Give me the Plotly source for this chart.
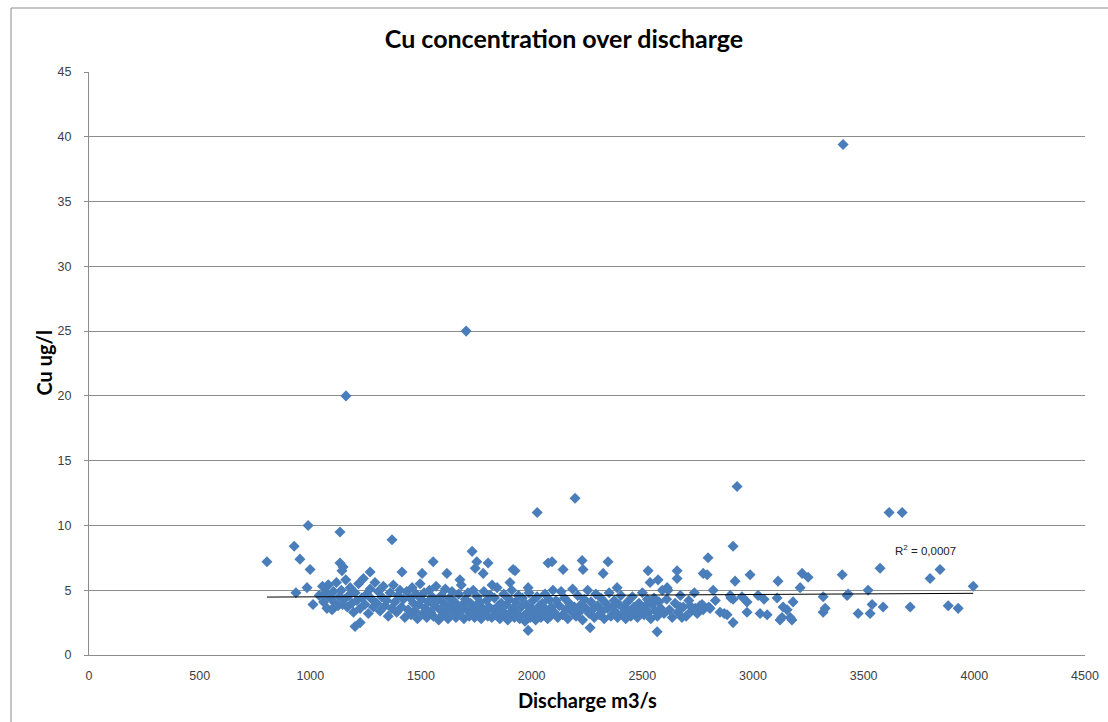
import numpy as np
import plotly.graph_objects as go

# ---- data (discharge m3/s, Cu ug/l) ----
outliers = [(1161, 20.0), (1704, 25.0), (2196, 12.1), (2025, 11.0), (2928, 13.0),
            (3407, 39.4), (3615, 11.0), (3674, 11.0)]

sparse_left = [(804, 7.2), (927, 8.4), (953, 7.4), (999, 6.6), (990, 10.0), (935, 4.8),
               (985, 5.2), (1012, 3.9), (1103, 3.6), (1134, 9.5), (1134, 7.1), (1143, 6.5),
               (1148, 6.8), (1202, 2.2), (1225, 2.5), (1270, 6.4), (1369, 8.9), (1414, 6.4),
               (1080, 5.4), (1040, 4.6), (1055, 5.3)]

upper_mid = [(1505, 6.3), (1555, 7.2), (1617, 6.3), (1676, 5.8), (1731, 8.0), (1745, 6.7),
             (1752, 7.2), (1781, 6.3), (1803, 7.1), (1821, 5.4), (1902, 5.6), (1916, 6.6),
             (1925, 6.5), (1984, 5.2), (2074, 7.1), (2092, 7.2), (2142, 6.6), (2228, 7.3),
             (2232, 6.6), (2323, 6.3), (2345, 7.2), (2386, 5.2), (2526, 6.5), (2535, 5.6),
             (2571, 5.8), (2612, 5.2), (2657, 6.5), (2657, 5.9), (2775, 6.3), (2797, 7.5)]

low_points = [(1984, 1.9), (2264, 2.1), (2567, 1.8)]

band_1 = [(1060, 4.1), (1068, 4.8), (1075, 3.6), (1082, 5.4), (1090, 4.4), (1098, 3.5),
          (1105, 4.9), (1112, 4.0), (1118, 5.6), (1125, 3.8), (1132, 4.5), (1140, 5.0),
          (1146, 3.9), (1153, 4.3), (1160, 5.8), (1167, 3.7), (1174, 4.6), (1180, 5.2),
          (1188, 4.0), (1195, 3.3), (1202, 4.8), (1210, 4.2), (1218, 5.5), (1225, 3.6),
          (1232, 4.4), (1240, 5.9), (1247, 3.9), (1255, 4.7), (1262, 3.2), (1270, 5.1),
          (1278, 4.3), (1285, 3.7), (1292, 5.6), (1300, 4.0), (1307, 4.9), (1315, 3.4),
          (1322, 4.5), (1330, 5.3), (1337, 3.8), (1345, 4.2), (1352, 3.0), (1360, 4.8),
          (1367, 3.6), (1375, 5.4), (1382, 4.1), (1390, 3.3), (1397, 4.6), (1405, 5.0),
          (1412, 3.7), (1420, 4.3), (1427, 2.9), (1435, 4.9), (1442, 3.5), (1450, 4.4)]

band_2 = [(1455, 3.1), (1460, 5.2), (1466, 4.0), (1472, 3.4), (1478, 4.7), (1484, 2.8),
          (1490, 3.9), (1496, 5.5), (1502, 4.3), (1508, 3.2), (1514, 4.8), (1520, 3.6),
          (1526, 2.9), (1532, 4.1), (1538, 5.0), (1544, 3.3), (1550, 4.5), (1556, 3.0),
          (1562, 3.8), (1568, 5.3), (1574, 4.2), (1580, 2.7), (1586, 3.5), (1592, 4.6),
          (1598, 3.1), (1604, 4.0), (1610, 5.1), (1616, 3.4), (1622, 2.8), (1628, 4.4),
          (1634, 3.7), (1640, 4.9), (1646, 3.2), (1652, 4.1), (1658, 2.9), (1664, 3.6),
          (1670, 4.7), (1676, 3.3), (1682, 5.4), (1688, 3.9), (1694, 2.8), (1700, 4.3),
          (1706, 3.5), (1712, 4.8), (1718, 3.0), (1724, 4.0), (1730, 3.4), (1736, 5.0),
          (1742, 2.9), (1748, 3.8), (1754, 4.5), (1760, 3.2), (1766, 4.1), (1772, 2.8),
          (1778, 3.6), (1784, 4.9), (1790, 3.3), (1796, 4.2), (1802, 3.0), (1808, 3.7),
          (1814, 4.6), (1820, 2.9), (1826, 3.5), (1832, 4.4), (1838, 3.1), (1844, 5.2),
          (1850, 3.8), (1856, 2.8), (1862, 4.0), (1868, 3.4), (1874, 4.7), (1880, 3.0),
          (1886, 3.9), (1892, 2.7), (1898, 4.3), (1904, 3.3), (1910, 5.0), (1916, 3.6),
          (1922, 2.9), (1928, 4.1), (1934, 3.2), (1940, 4.6), (1946, 2.8), (1952, 3.7),
          (1958, 4.4), (1964, 3.0), (1970, 2.6), (1976, 3.9), (1982, 3.3), (1988, 4.8),
          (1994, 2.9), (2000, 3.6), (2006, 4.2), (2012, 3.1), (2018, 2.7), (2024, 4.5),
          (2030, 3.4), (2036, 3.8), (2042, 2.9), (2048, 4.0), (2054, 3.2), (2060, 4.7),
          (2066, 3.5), (2072, 2.8), (2078, 4.3), (2084, 3.0), (2090, 3.7), (2096, 5.0)]

band_3 = [(2102, 3.3), (2110, 4.2), (2118, 2.9), (2125, 3.8), (2133, 4.9), (2140, 3.1),
          (2148, 4.4), (2155, 3.5), (2163, 2.8), (2170, 4.0), (2178, 3.4), (2185, 5.1),
          (2193, 3.7), (2200, 3.0), (2208, 4.6), (2215, 3.3), (2223, 3.9), (2230, 2.7),
          (2238, 4.3), (2245, 3.6), (2253, 5.0), (2260, 3.2), (2268, 4.1), (2275, 3.5),
          (2283, 2.9), (2290, 4.7), (2298, 3.8), (2305, 3.1), (2313, 4.4), (2320, 3.4),
          (2328, 2.8), (2335, 4.0), (2343, 3.6), (2350, 4.8), (2358, 3.0), (2365, 3.7),
          (2373, 4.2), (2380, 3.3), (2388, 2.9), (2395, 3.9), (2403, 4.6), (2410, 3.2),
          (2418, 3.6), (2425, 2.8), (2433, 4.1), (2440, 3.4), (2448, 3.0), (2455, 4.5),
          (2463, 3.7), (2470, 3.2), (2478, 2.9), (2485, 4.0), (2493, 3.5), (2500, 4.8),
          (2508, 3.1), (2515, 3.8), (2523, 4.3), (2530, 3.3), (2538, 2.8), (2545, 3.9),
          (2553, 4.4), (2560, 3.4), (2568, 3.0), (2575, 4.1), (2583, 3.6), (2590, 5.0),
          (2598, 3.2)]

band_4 = [(2610, 4.3), (2616, 5.0), (2622, 3.5), (2635, 2.9), (2648, 4.0), (2660, 3.3),
          (2670, 3.7), (2672, 4.6), (2679, 2.9), (2685, 3.7), (2698, 3.0), (2710, 4.2),
          (2716, 3.8), (2722, 3.4), (2735, 4.8), (2740, 3.6), (2748, 3.2), (2760, 3.8),
          (2770, 3.9), (2800, 3.7), (2830, 4.2), (2870, 3.2), (2900, 4.4), (2950, 4.5),
          (3050, 4.3), (3109, 4.4), (3131, 2.9)]

right_part = [(2806, 3.6), (2820, 5.0), (2851, 3.3), (2883, 3.1), (2897, 4.6), (2910, 4.3),
              (2910, 2.5), (2919, 5.7), (2973, 4.1), (2973, 3.3), (2987, 6.2), (3023, 4.6),
              (3032, 3.2), (3064, 3.1), (3113, 5.7), (3122, 2.7), (3136, 3.7), (3154, 3.5),
              (3168, 2.9), (3176, 2.7), (3181, 4.1), (3213, 5.2), (3222, 6.3), (3249, 6.0),
              (3317, 4.5), (3317, 3.3), (3326, 3.6), (3403, 6.2), (3425, 4.6), (3430, 4.7),
              (3475, 3.2), (3520, 5.0), (3529, 3.2), (3538, 3.9), (3574, 6.7), (3588, 3.7),
              (3710, 3.7), (3800, 5.9), (3845, 6.6), (3882, 3.8), (3927, 3.6), (3995, 5.3),
              (2910, 8.4), (2775, 3.5), (2793, 6.2)]

x_ticks = [0, 500, 1000, 1500, 2000, 2500, 3000, 3500, 4000, 4500]
y_ticks = [0, 5, 10, 15, 20, 25, 30, 35, 40, 45]

groups = [outliers, sparse_left, upper_mid, low_points, band_1, band_2, band_3, band_4, right_part]
discharge = np.array([p[0] for g in groups for p in g], dtype=float)
cu = np.array([p[1] for g in groups for p in g], dtype=float)

# linear trendline computed from the data
slope, intercept = np.polyfit(discharge, cu, 1)
x_fit = np.array([discharge.min(), discharge.max()])
y_fit = slope * x_fit + intercept

W, H = 1108, 722
L, R, T, B = 89, 23, 72, 67
pw, ph = W - L - R, H - T - B

fig = go.Figure()
fig.add_trace(go.Scatter(
    x=discharge, y=cu, mode="markers",
    marker=dict(symbol="diamond", size=8.5, color="#4a7ebb", line=dict(width=0)),
    showlegend=False, hoverinfo="x+y", cliponaxis=False))
fig.add_trace(go.Scatter(
    x=x_fit, y=y_fit, mode="lines",
    line=dict(color="#000000", width=1), showlegend=False, hoverinfo="skip"))

grid = "#8c8c8c"
tick_font = dict(family="Liberation Sans, Arial, sans-serif", size=12.5, color="#404040")
fig.update_layout(
    width=W, height=H, autosize=False,
    margin=dict(l=L, r=R, t=T, b=B, pad=0, autoexpand=False),
    paper_bgcolor="white", plot_bgcolor="white",
    title=dict(text="<b>Cu concentration over discharge</b>",
               font=dict(family="Lato, sans-serif", size=25, color="#000000"),
               x=564 / W, xref="container", xanchor="center",
               y=1 - 39 / H, yref="container", yanchor="middle", automargin=False),
    xaxis=dict(range=[0, 4500], tickvals=x_ticks, showgrid=False, zeroline=False,
               showline=True, linecolor=grid, linewidth=1, ticks="", automargin=False,
               tickfont=tick_font, ticklabelstandoff=9, fixedrange=True),
    yaxis=dict(range=[0, 45], tickvals=y_ticks, showgrid=True, gridcolor=grid, gridwidth=1,
               zeroline=False, showline=True, linecolor=grid, linewidth=1, automargin=False,
               ticks="outside", ticklen=4, tickcolor=grid,
               tickfont=tick_font, ticklabelstandoff=10, fixedrange=True),
    shapes=[dict(type="rect", xref="paper", yref="paper",
                 x0=(11 - L) / pw, x1=1.2, y0=-0.3, y1=(H - B - 8) / ph,
                 line=dict(color=grid, width=1), fillcolor="rgba(0,0,0,0)", layer="below")],
    annotations=[
        dict(text="<b>Discharge m3/s</b>", xref="paper", yref="paper", x=0.5, y=0,
             xanchor="center", yanchor="middle", yshift=-45, showarrow=False,
             font=dict(family="Lato, sans-serif", size=20, color="#000000")),
        dict(text="<b>Cu ug/l</b>", xref="paper", yref="paper", x=0, y=0.5,
             xanchor="center", yanchor="middle", xshift=-46, textangle=-90, showarrow=False,
             font=dict(family="Lato, sans-serif", size=20, color="#000000")),
        dict(text="R<sup>2</sup> = 0,0007", xref="x", yref="y", x=3780, y=8.1,
             xanchor="center", yanchor="middle", showarrow=False,
             font=dict(family="Liberation Sans, Arial, sans-serif", size=11.5, color="#222222")),
    ],
)

fig.write_html("out.html")
